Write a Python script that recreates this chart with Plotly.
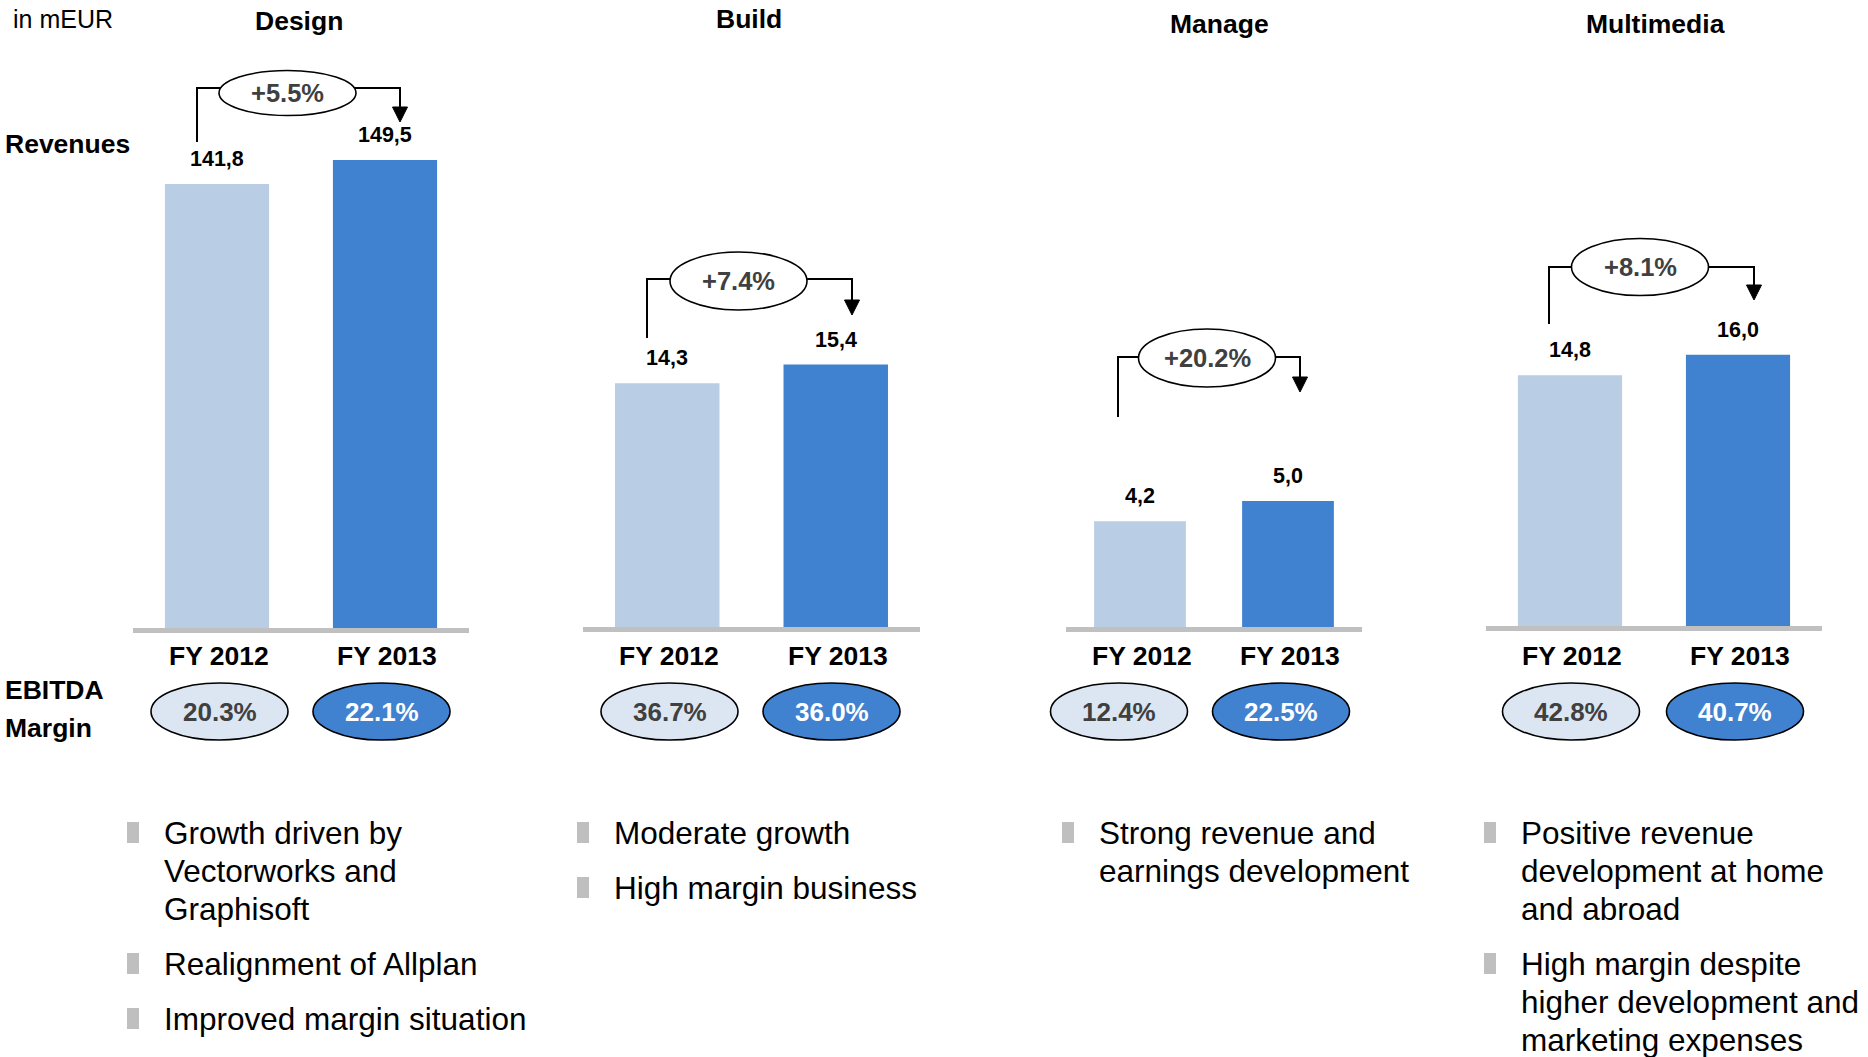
import plotly.graph_objects as go

W, H = 1868, 1057

# ---------------- data ----------------
segments = ["Design", "Build", "Manage", "Multimedia"]
years = ["FY 2012", "FY 2013"]
revenue_2012 = [141.8, 14.3, 4.2, 14.8]
revenue_2013 = [149.5, 15.4, 5.0, 16.0]
growth_labels = ["+5.5%", "+7.4%", "+20.2%", "+8.1%"]
margin_2012 = [20.3, 36.7, 12.4, 42.8]
margin_2013 = [22.1, 36.0, 22.5, 40.7]
bullets = [
    [["Growth driven by", "Vectorworks and", "Graphisoft"],
     ["Realignment of Allplan"],
     ["Improved margin situation"]],
    [["Moderate growth"],
     ["High margin business"]],
    [["Strong revenue and", "earnings development"]],
    [["Positive revenue", "development at home", "and abroad"],
     ["High margin despite", "higher development and", "marketing expenses"]],
]

# ---------------- layout / style constants ----------------
FONT = "Arial, Liberation Sans, sans-serif"
LIGHT = "#B9CDE5"
DARK = "#4182D0"
LIGHT_ELL = "#DCE6F2"
GREY_LINE = "#C0C0C0"
TEXT_GREY = "#404040"

panel_x = [(133, 469), (583, 920), (1066, 1362), (1486, 1822)]
bar_bottom = [628, 627, 627, 626]
y_max = [200.6, 36.8, 24.88, 36.93]
title_pos = [(299, 21), (749, 19), (1219, 24), (1655, 24)]
# bracket: left x, left bottom y, bracket y, right x, arrow tip y, ellipse cx, ellipse h, ellipse y offset
brackets = [
    (197, 142, 88, 400, 122, 287.5, 45, 5),
    (647, 338, 279, 852, 315, 738.5, 58, 2),
    (1118, 417, 357, 1300, 392, 1207, 58, 1),
    (1549, 324, 267, 1754, 300, 1640, 57, 0),
]
margin_cx = [(219.5, 381.5), (669.5, 831.5), (1119, 1281), (1571, 1735)]
margin_cy = 711.5
bullet_text_x = [165, 615, 1100, 1522]
TXT_PAD = 3  # annotation inner padding compensation


def fx(p):
    return p / W


def fy(p):
    return 1 - p / H


def fmt(v):
    return f"{v:.1f}".replace(".", ",")


fig = go.Figure()
shapes = []
annotations = []

for i, seg in enumerate(segments):
    n = "" if i == 0 else str(i + 1)
    xa, ya = f"x{n}", f"y{n}"
    vals = [revenue_2012[i], revenue_2013[i]]
    fig.add_trace(go.Bar(
        x=[0, 1], y=vals, width=0.62,
        marker=dict(color=[LIGHT, DARK], line=dict(width=0)),
        xaxis=xa, yaxis=ya, showlegend=False, hoverinfo="skip",
    ))
    x0, x1 = panel_x[i]
    fig.layout[f"xaxis{n}"] = dict(domain=[fx(x0), fx(x1)], range=[-0.5, 1.5],
                                   visible=False, anchor=ya, fixedrange=True)
    fig.layout[f"yaxis{n}"] = dict(domain=[fy(bar_bottom[i]), 1], range=[0, y_max[i]],
                                   visible=False, anchor=xa, fixedrange=True)

    # baseline
    yb = bar_bottom[i] + 2.5
    shapes.append(dict(type="line", xref="paper", yref="paper", x0=fx(x0), x1=fx(x1),
                       y0=fy(yb), y1=fy(yb), line=dict(color=GREY_LINE, width=5)))

    # title
    tx, ty = title_pos[i]
    annotations.append(dict(xref="paper", yref="paper", x=fx(tx), y=fy(ty), text=f"<b>{seg}</b>",
                            showarrow=False, xanchor="center", yanchor="middle",
                            font=dict(size=26.5, color="#000000", family=FONT)))

    # value labels & year labels
    for j, v in enumerate(vals):
        annotations.append(dict(xref=xa, yref=ya, x=j, y=v, yshift=25, text=f"<b>{fmt(v)}</b>",
                                showarrow=False, xanchor="center", yanchor="middle",
                                font=dict(size=21.5, color="#000000", family=FONT)))
        annotations.append(dict(xref=xa, yref=ya, x=j, y=0, yshift=-(656 - bar_bottom[i]), xshift=2,
                                text=f"<b>{years[j]}</b>", showarrow=False,
                                xanchor="center", yanchor="middle",
                                font=dict(size=26.5, color="#000000", family=FONT)))

    # growth bracket
    lx, lb, by, rx, tip, ecx, eh, eoff = brackets[i]
    path = (f"M {fx(lx)},{fy(lb)} L {fx(lx)},{fy(by)} L {fx(rx)},{fy(by)} "
            f"L {fx(rx)},{fy(tip - 14)}")
    shapes.append(dict(type="path", xref="paper", yref="paper", path=path,
                       line=dict(color="#000000", width=2)))
    tri = (f"M {fx(rx - 7.5)},{fy(tip - 15)} L {fx(rx + 7.5)},{fy(tip - 15)} "
           f"L {fx(rx)},{fy(tip)} Z")
    shapes.append(dict(type="path", xref="paper", yref="paper", path=tri,
                       fillcolor="#000000", line=dict(color="#000000", width=1)))
    ecy = by + eoff
    shapes.append(dict(type="circle", xref="paper", yref="paper",
                       x0=fx(ecx - 68.5), x1=fx(ecx + 68.5),
                       y0=fy(ecy + eh / 2), y1=fy(ecy - eh / 2),
                       fillcolor="#FFFFFF", line=dict(color="#000000", width=1.6)))
    annotations.append(dict(xref="paper", yref="paper", x=fx(ecx), y=fy(ecy), text=f"<b>{growth_labels[i]}</b>",
                            showarrow=False, xanchor="center", yanchor="middle",
                            font=dict(size=25.5, color=TEXT_GREY, family=FONT)))

    # margin ellipses
    for j, (m, fill, tc) in enumerate([(margin_2012[i], LIGHT_ELL, TEXT_GREY),
                                       (margin_2013[i], DARK, "#FFFFFF")]):
        cx = margin_cx[i][j]
        shapes.append(dict(type="circle", xref="paper", yref="paper",
                           x0=fx(cx - 68.5), x1=fx(cx + 68.5),
                           y0=fy(margin_cy + 28.5), y1=fy(margin_cy - 28.5),
                           fillcolor=fill, line=dict(color="#000000", width=1.6)))
        annotations.append(dict(xref="paper", yref="paper", x=fx(cx), y=fy(margin_cy),
                                text=f"<b>{m:.1f}%</b>", showarrow=False,
                                xanchor="center", yanchor="middle",
                                font=dict(size=26, color=tc, family=FONT)))

    # bullets
    line_y = 833
    tx_b = bullet_text_x[i]
    for item in bullets[i]:
        shapes.append(dict(type="rect", xref="paper", yref="paper",
                           x0=fx(tx_b - 38), x1=fx(tx_b - 26),
                           y0=fy(line_y + 10), y1=fy(line_y - 11),
                           fillcolor="#BFBFBF", line=dict(width=0)))
        for k, line in enumerate(item):
            annotations.append(dict(xref="paper", yref="paper", x=fx(tx_b - TXT_PAD), y=fy(line_y + 38 * k),
                                    text=line, showarrow=False, xanchor="left", yanchor="middle",
                                    font=dict(size=31.5, color="#000000", family=FONT)))
        line_y += 38 * len(item) + 17

# row labels
annotations.append(dict(xref="paper", yref="paper", x=fx(14 - TXT_PAD), y=fy(19), text="in mEUR",
                        showarrow=False, xanchor="left", yanchor="middle",
                        font=dict(size=25, color="#000000", family=FONT)))
annotations.append(dict(xref="paper", yref="paper", x=fx(6 - TXT_PAD), y=fy(144), text="<b>Revenues</b>",
                        showarrow=False, xanchor="left", yanchor="middle",
                        font=dict(size=26.5, color="#000000", family=FONT)))
annotations.append(dict(xref="paper", yref="paper", x=fx(6 - TXT_PAD), y=fy(690), text="<b>EBITDA</b>",
                        showarrow=False, xanchor="left", yanchor="middle",
                        font=dict(size=26.5, color="#000000", family=FONT)))
annotations.append(dict(xref="paper", yref="paper", x=fx(6 - TXT_PAD), y=fy(728), text="<b>Margin</b>",
                        showarrow=False, xanchor="left", yanchor="middle",
                        font=dict(size=26.5, color="#000000", family=FONT)))

fig.update_layout(
    width=W, height=H, margin=dict(l=0, r=0, t=0, b=0, pad=0),
    paper_bgcolor="#FFFFFF", plot_bgcolor="#FFFFFF",
    shapes=shapes, annotations=annotations, showlegend=False,
    bargap=0.38, font=dict(family=FONT),
)

fig.write_html("out.html", config={"displayModeBar": False})
